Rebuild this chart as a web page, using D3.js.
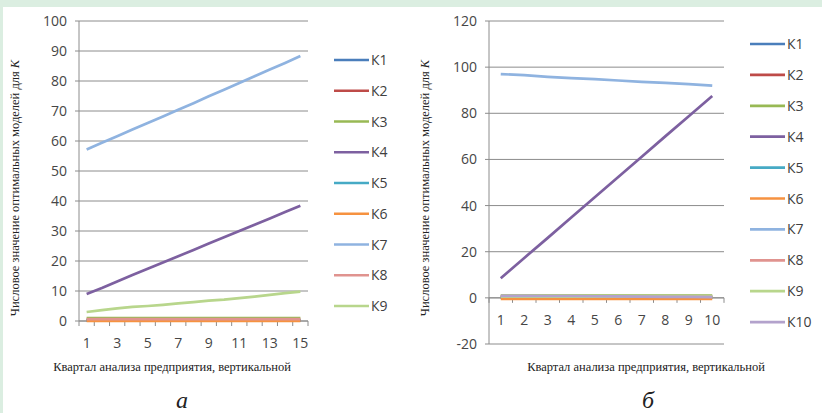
<!DOCTYPE html>
<html>
<head>
<meta charset="utf-8">
<script src="https://cdn.jsdelivr.net/npm/d3@7"></script>
<style>
  html, body { margin: 0; padding: 0; background: #fff; }
  svg { display: block; }
</style>
</head>
<body>
<svg width="822" height="413"></svg>
<script>
// chart "а" (left)
var catsA = [1, 2, 3, 4, 5, 6, 7, 8, 9, 10, 11, 12, 13, 14, 15];
var namesA = ["К1", "К2", "К3", "К4", "К5", "К6", "К7", "К8", "К9"];
var k1A = [0.3, 0.3, 0.3, 0.3, 0.3, 0.3, 0.3, 0.3, 0.3, 0.3, 0.3, 0.3, 0.3, 0.3, 0.3];
var k2A = [0.3, 0.3, 0.3, 0.3, 0.3, 0.3, 0.3, 0.3, 0.3, 0.3, 0.3, 0.3, 0.3, 0.3, 0.3];
var k3A = [1, 1, 1, 1, 1, 1, 1, 1, 1, 1, 1, 1, 1, 1, 1];
var k4A = [9, 11, 13.2, 15.3, 17.4, 19.5, 21.6, 23.7, 25.8, 27.9, 30, 32.1, 34.2, 36.3, 38.4];
var k5A = [0.2, 0.2, 0.2, 0.2, 0.2, 0.2, 0.2, 0.2, 0.2, 0.2, 0.2, 0.2, 0.2, 0.2, 0.2];
var k6A = [0, 0, 0, 0, 0, 0, 0, 0, 0, 0, 0, 0, 0, 0, 0];
var k7A = [57.2, 59.4, 61.6, 63.8, 66, 68.2, 70.4, 72.6, 74.9, 77.1, 79.3, 81.6, 83.8, 86, 88.3];
var k8A = [0.6, 0.6, 0.6, 0.6, 0.6, 0.6, 0.6, 0.6, 0.6, 0.6, 0.6, 0.6, 0.6, 0.6, 0.6];
var k9A = [3, 3.6, 4.2, 4.7, 5, 5.4, 5.9, 6.3, 6.8, 7.1, 7.6, 8.1, 8.7, 9.3, 9.8];
var yTicksA = [0, 10, 20, 30, 40, 50, 60, 70, 80, 90, 100];
var xLabelsA = [1, 3, 5, 7, 9, 11, 13, 15];

// chart "б" (right)
var catsB = [1, 2, 3, 4, 5, 6, 7, 8, 9, 10];
var namesB = ["К1", "К2", "К3", "К4", "К5", "К6", "К7", "К8", "К9", "К10"];
var k1B = [0.3, 0.3, 0.3, 0.3, 0.3, 0.3, 0.3, 0.3, 0.3, 0.3];
var k2B = [0.3, 0.3, 0.3, 0.3, 0.3, 0.3, 0.3, 0.3, 0.3, 0.3];
var k3B = [1, 1, 1, 1, 1, 1, 1, 1, 1, 1];
var k4B = [8.5, 17.3, 26, 34.8, 43.6, 52.4, 61.2, 70, 78.7, 87.5];
var k5B = [0.2, 0.2, 0.2, 0.2, 0.2, 0.2, 0.2, 0.2, 0.2, 0.2];
var k6B = [-0.4, -0.4, -0.4, -0.4, -0.4, -0.4, -0.4, -0.4, -0.4, -0.4];
var k7B = [97, 96.5, 95.8, 95.2, 94.8, 94.2, 93.6, 93.2, 92.6, 92];
var k8B = [0.6, 0.6, 0.6, 0.6, 0.6, 0.6, 0.5, 0.5, 0.5, 0.5];
var k9B = [0.5, 0.5, 0.5, 0.5, 0.5, 0.5, 0.5, 0.5, 0.5, 0.5];
var k10B = [0.9, 0.9, 0.8, 0.8, 0.7, 0.6, 0.5, 0.4, 0.4, 0.3];
var yTicksB = [-20, 0, 20, 40, 60, 80, 100, 120];
var xLabelsB = [1, 2, 3, 4, 5, 6, 7, 8, 9, 10];

var colors = ["#4a7ebb", "#be4b48", "#98b954", "#7d60a0", "#46aac5", "#f69240",
              "#8fb3e0", "#e0938f", "#b8d68c", "#b3a2cc"];

var svg = d3.select("svg");

// light green page strips
svg.append("rect").attr("x", 0).attr("y", 0).attr("width", 822).attr("height", 7).attr("fill", "#dbeee1");
svg.append("rect").attr("x", 0).attr("y", 0).attr("width", 3).attr("height", 413).attr("fill", "#dbeee1");

function drawChart(cfg) {
  var x = d3.scalePoint().domain(cfg.cats).range([cfg.left, cfg.right]).padding(0.5),
      y = d3.scaleLinear().domain([cfg.yTicks[0], cfg.yTicks[cfg.yTicks.length - 1]]).range([cfg.bottom, cfg.top]),
      step = x.step(),
      g = svg.append("g");

  // gridlines
  g.selectAll(".grid").data(cfg.yTicks).enter().append("line")
    .attr("x1", cfg.left - 4).attr("x2", cfg.right)
    .attr("y1", function(d) { return y(d); }).attr("y2", function(d) { return y(d); })
    .attr("stroke", "#8c8c8c").attr("stroke-width", 1);

  // y tick labels
  g.selectAll(".ylab").data(cfg.yTicks).enter().append("text")
    .attr("x", cfg.left - 12).attr("y", function(d) { return y(d); })
    .attr("dy", "0.36em").attr("text-anchor", "end")
    .attr("font-family", "Open Sans, sans-serif").attr("font-size", 14)
    .attr("fill", "#464646").text(function(d) { return d; });

  // y axis line
  g.append("line").attr("x1", cfg.left).attr("x2", cfg.left)
    .attr("y1", cfg.top).attr("y2", cfg.bottom).attr("stroke", "#8c8c8c");

  // x axis at zero with tick marks between categories
  var y0 = y(0);
  g.append("line").attr("x1", cfg.left).attr("x2", cfg.right)
    .attr("y1", y0).attr("y2", y0).attr("stroke", "#8c8c8c");
  var bounds = cfg.cats.map(function(c) { return x(c) - step / 2; }).concat([cfg.right]);
  g.selectAll(".xtick").data(bounds).enter().append("line")
    .attr("x1", function(d) { return d; }).attr("x2", function(d) { return d; })
    .attr("y1", y0).attr("y2", y0 + 5).attr("stroke", "#8c8c8c");

  g.selectAll(".xlab").data(cfg.xLabels).enter().append("text")
    .attr("x", function(d) { return x(d); }).attr("y", y0 + 22)
    .attr("dy", "0.36em").attr("text-anchor", "middle")
    .attr("font-family", "Open Sans, sans-serif").attr("font-size", 14)
    .attr("fill", "#464646").text(function(d) { return d; });

  // series
  var line = d3.line()
    .x(function(d, i) { return x(cfg.cats[i]); })
    .y(function(d) { return y(d); });
  g.selectAll(".series").data(cfg.series).enter().append("path")
    .attr("d", function(d) { return line(d); })
    .attr("fill", "none")
    .attr("stroke", function(d, i) { return colors[i]; })
    .attr("stroke-width", 2.7)
    .attr("stroke-linejoin", "round");

  // legend
  var leg = g.selectAll(".leg").data(cfg.names).enter().append("g")
    .attr("transform", function(d, i) { return "translate(" + cfg.legX + "," + (cfg.legY + i * cfg.legStep) + ")"; });
  leg.append("line").attr("x1", 0).attr("x2", 35).attr("y1", 0).attr("y2", 0)
    .attr("stroke", function(d, i) { return colors[i]; }).attr("stroke-width", 2.7);
  leg.append("text").attr("x", 37).attr("dy", "0.36em")
    .attr("font-family", "Open Sans, sans-serif").attr("font-size", 14)
    .attr("fill", "#404040").text(function(d) { return d; });

  // axis titles
  var yt = g.append("text")
    .attr("transform", "translate(" + cfg.yTitleX + ",188) rotate(-90)")
    .attr("text-anchor", "middle")
    .attr("font-family", "Liberation Serif, serif").attr("font-size", 12.5)
    .attr("fill", "#222");
  yt.append("tspan").text("Числовое значение оптимальных моделей для ");
  yt.append("tspan").attr("font-style", "italic").text("K");

  g.append("text").attr("x", cfg.xTitleX).attr("y", 371)
    .attr("text-anchor", "middle")
    .attr("font-family", "Liberation Serif, serif").attr("font-size", 12.5)
    .attr("fill", "#222").text("Квартал анализа предприятия, вертикальной");

  g.append("text").attr("x", cfg.xTitleX + cfg.letterShift).attr("y", 408)
    .attr("text-anchor", "middle")
    .attr("font-family", "Liberation Serif, serif").attr("font-size", 24)
    .attr("font-style", "italic")
    .attr("fill", "#222").text(cfg.letter);
}

drawChart({
  cats: catsA, yTicks: yTicksA, xLabels: xLabelsA, names: namesA,
  series: [k1A, k2A, k3A, k4A, k5A, k6A, k7A, k8A, k9A],
  left: 79, right: 308, top: 21, bottom: 321,
  legX: 334, legY: 60, legStep: 30.75,
  yTitleX: 19, xTitleX: 172, letterShift: 10, letter: "а"
});

drawChart({
  cats: catsB, yTicks: yTicksB, xLabels: xLabelsB, names: namesB,
  series: [k1B, k2B, k3B, k4B, k5B, k6B, k7B, k8B, k9B, k10B],
  left: 489, right: 724, top: 21, bottom: 344,
  legX: 750, legY: 44, legStep: 30.9,
  yTitleX: 429, xTitleX: 646, letterShift: 2, letter: "б"
});
</script>
</body>
</html>
